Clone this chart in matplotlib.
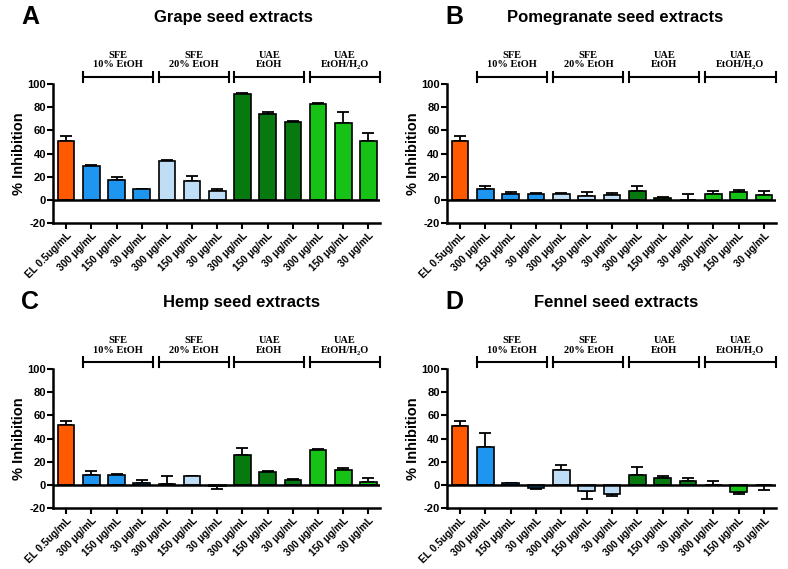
import numpy as np
import matplotlib
matplotlib.use("Agg")
import matplotlib.pyplot as plt

plt.rcParams["font.family"] = ["Liberation Sans", "DejaVu Sans"]
plt.rcParams["font.weight"] = "bold"
plt.rcParams["axes.unicode_minus"] = False

# ---------------- Data ----------------

labels = ["EL 0.5ug/mL",
          "300 μg/mL", "150 μg/mL", "30 μg/mL",
          "300 μg/mL", "150 μg/mL", "30 μg/mL",
          "300 μg/mL", "150 μg/mL", "30 μg/mL",
          "300 μg/mL", "150 μg/mL", "30 μg/mL"]

groups = ["SFE\n10% EtOH", "SFE\n20% EtOH", "UAE\nEtOH", "UAE\nEtOH/H₂O"]

grape = [51, 29.5, 17.5, 9, 33.5, 16.5, 7.5, 91, 74, 67.5, 83, 66.5, 51]
grape_err = [4, 0.8, 2.2, 0.8, 0.5, 4, 1.8, 1, 2, 0.3, 0.6, 9, 6.5]

pomegranate = [51, 9, 5, 5, 5.5, 3, 4, 7.5, 1.3, 0.2, 5.5, 6.5, 4]
pomegranate_err = [4, 3.2, 2, 0.6, 0.6, 4, 2.3, 4.6, 1.2, 4.8, 2.3, 2, 3.8]

hemp = [51.5, 8.3, 8.3, 1.4, 0.9, 7.5, -0.9, 25.6, 11.5, 4, 29.9, 12.6, 2.6]
hemp_err = [4, 4, 1.2, 3.2, 6.6, 0.5, 2.8, 6.3, 0.5, 0.9, 1.1, 2.4, 3.1]

fennel = [51, 32.5, 1.4, -2.3, 12.9, -5, -8, 8.5, 6, 3.7, 0.3, -6, -0.3]
fennel_err = [4, 12, 0.6, 1.1, 4.6, 7, 1.2, 7, 1.5, 2, 2.7, 1.5, 3.7]

panels = [
    ("A", "Grape seed extracts", grape, grape_err),
    ("B", "Pomegranate seed extracts", pomegranate, pomegranate_err),
    ("C", "Hemp seed extracts", hemp, hemp_err),
    ("D", "Fennel seed extracts", fennel, fennel_err),
]

colors = ["#FF5A00"] + ["#1E96F0"] * 3 + ["#BFDDF5"] * 3 + ["#067A0E"] * 3 + ["#17C217"] * 3

# positions in figure fraction: axes box, title centre, letter centre
axes_pos = [
    [0.0673, 0.608, 0.415, 0.2443],
    [0.567, 0.608, 0.4175, 0.2443],
    [0.0673, 0.107, 0.415, 0.2443],
    [0.567, 0.107, 0.4175, 0.2443],
]
title_pos = [(0.296, 0.970), (0.780, 0.970), (0.307, 0.469), (0.782, 0.469)]
letter_pos = [(0.038, 0.970), (0.577, 0.970), (0.038, 0.469), (0.577, 0.469)]

fig = plt.figure(figsize=(7.88, 5.69), dpi=100)

x = np.arange(len(labels))

for i, (letter, title, vals, errs) in enumerate(panels):

    ax = fig.add_axes(axes_pos[i])

    vals = np.array(vals)
    errs = np.array(errs)

    ax.bar(x, vals, width=0.66, color=colors, edgecolor="black",
           linewidth=1.2, zorder=2)

    # one-sided error bars, pointing away from zero
    lower = np.where(vals < 0, errs, 0)
    upper = np.where(vals >= 0, errs, 0)
    ax.errorbar(x, vals, yerr=[lower, upper], fmt="none", ecolor="black",
                elinewidth=1.3, capsize=4, capthick=1.3, zorder=1)

    ax.axhline(0, color="black", linewidth=1.8, zorder=3)

    ax.set_xlim(-0.52, 12.46)
    ax.set_ylim(-20, 100)
    ax.set_yticks([-20, 0, 20, 40, 60, 80, 100])

    for side in ["top", "right"]:
        ax.spines[side].set_visible(False)
    for side in ["left", "bottom"]:
        ax.spines[side].set_linewidth(1.8)

    ax.tick_params(axis="y", width=1.5, length=4, labelsize=8, pad=1)
    ax.tick_params(axis="x", width=1.5, length=4, labelsize=7.3, pad=1.5)
    ax.set_xticks(x)
    ax.set_xticklabels(labels, rotation=45, ha="right",
                       rotation_mode="anchor", fontweight="bold")
    for t in ax.get_yticklabels():
        t.set_fontweight("bold")

    ax.set_ylabel("% Inhibition", fontsize=10.5, fontweight="bold", labelpad=1)

    # group brackets above the plot
    for k, g in enumerate(groups):
        x0 = 1 + 3 * k - 0.32
        x1 = 3 + 3 * k + 0.45
        yb = 106
        ax.plot([x0, x1], [yb, yb], color="black", lw=1.5, clip_on=False)
        ax.plot([x0, x0], [yb - 4.3, yb + 4.3], color="black", lw=1.5, clip_on=False)
        ax.plot([x1, x1], [yb - 4.3, yb + 4.3], color="black", lw=1.5, clip_on=False)
        ax.text((x0 + x1) / 2, 120.5, g, ha="center", va="center",
                fontsize=7.5, fontweight="bold", linespacing=1.05,
                family=["Liberation Serif", "DejaVu Serif"], clip_on=False)

    fig.text(title_pos[i][0], title_pos[i][1], title, ha="center", va="center",
             fontsize=12, fontweight="bold")
    fig.text(letter_pos[i][0], letter_pos[i][1], letter, ha="center", va="center",
             fontsize=18, fontweight="bold")

fig.savefig("out.png", dpi=100)
